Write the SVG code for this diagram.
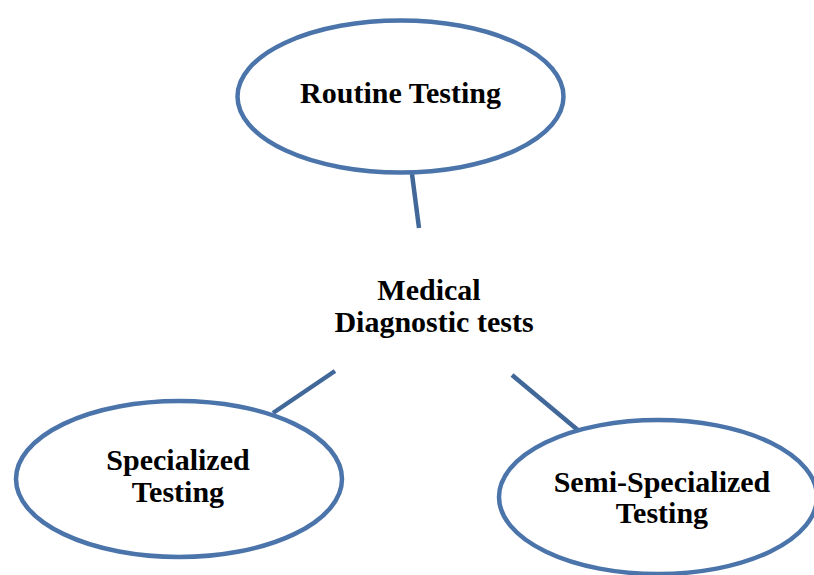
<svg xmlns="http://www.w3.org/2000/svg" width="814" height="575" viewBox="0 0 814 575">
<style>
.node{fill:#ffffff;stroke:#4a74aa;stroke-width:4.5}
.lbl{font-family:"Liberation Serif","Times New Roman",serif;font-weight:bold;font-size:30px;fill:#000;text-anchor:middle}
.conn{stroke:#416899;stroke-width:4.5;fill:none}
</style>
<rect width="814" height="575" fill="#ffffff"/>
<g id="connectors">
<line class="conn" x1="412" y1="174" x2="419" y2="228"/>
<line class="conn" x1="273" y1="413" x2="335" y2="371"/>
<line class="conn" x1="512" y1="375" x2="579" y2="431"/>
</g>
<g id="routine">
<ellipse class="node" cx="400.5" cy="96.5" rx="163" ry="76"/>
<text class="lbl" x="400.5" y="103">Routine Testing</text>
</g>
<g id="center">
<text class="lbl" x="429" y="300">Medical</text>
<text class="lbl" x="434" y="332">Diagnostic tests</text>
</g>
<g id="specialized">
<ellipse class="node" cx="179" cy="479" rx="163" ry="78"/>
<text class="lbl" x="178" y="470">Specialized</text>
<text class="lbl" x="178" y="502">Testing</text>
</g>
<g id="semi">
<ellipse class="node" cx="658" cy="497" rx="159" ry="77"/>
<text class="lbl" x="662" y="492">Semi-Specialized</text>
<text class="lbl" x="662" y="523">Testing</text>
</g>
</svg>
